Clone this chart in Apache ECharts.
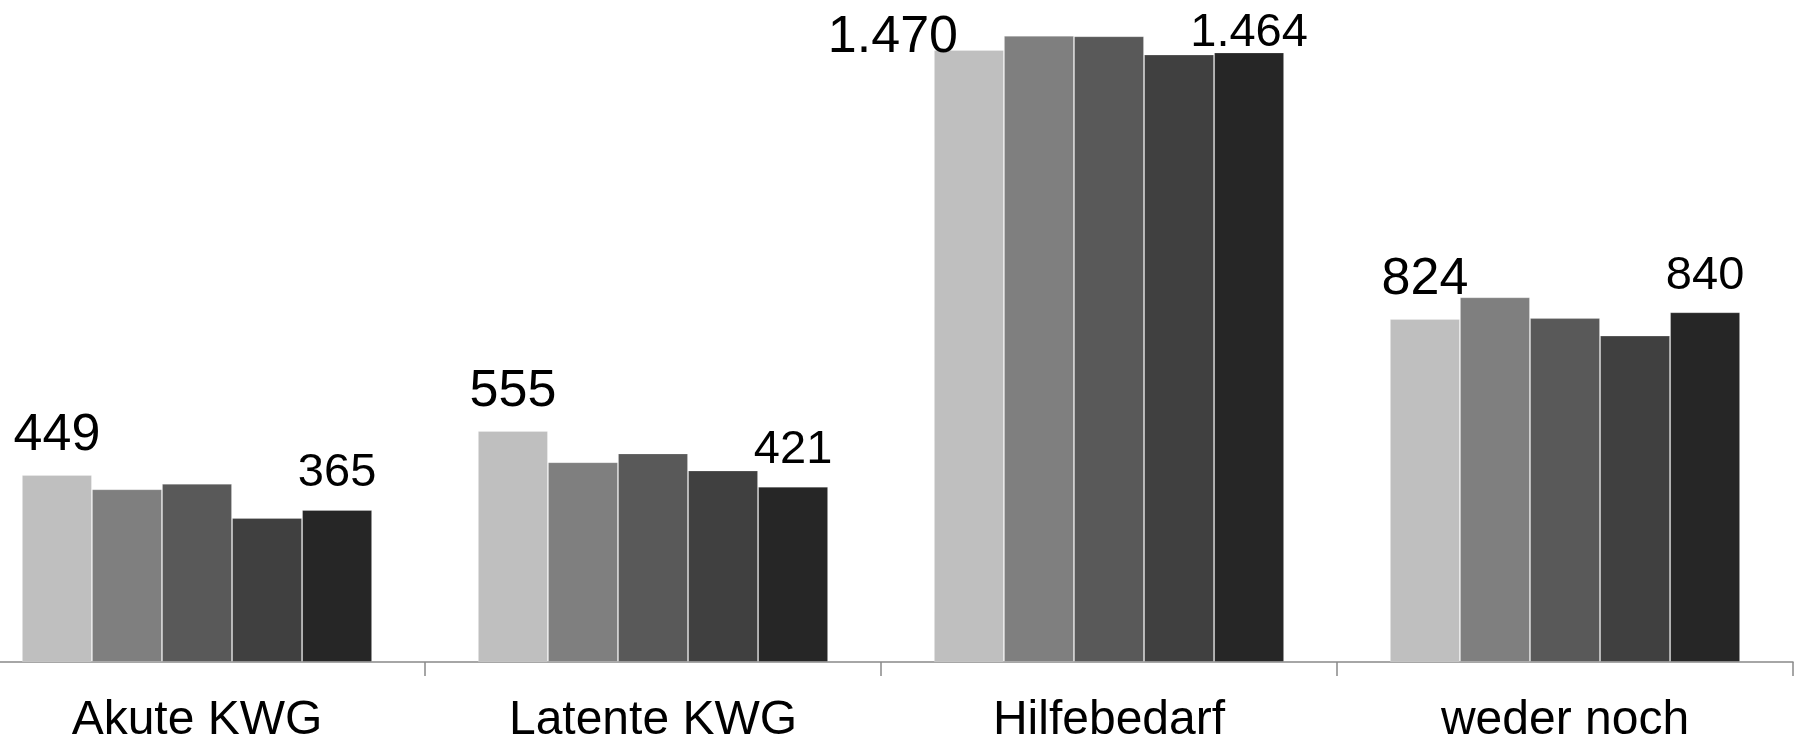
<!DOCTYPE html>
<html>
<head>
<meta charset="utf-8">
<script src="https://cdn.jsdelivr.net/npm/echarts@6/dist/echarts.min.js"></script>
<style>
  html, body { margin: 0; padding: 0; background: #ffffff; overflow: hidden; }
  /* the first category starts a little beyond the left edge of the page */
  #chart { width: 1829px; height: 739px; margin-left: -31px; }
</style>
</head>
<body>
<div id="chart"></div>
<script>
// Categories along the x axis
const categories = ['Akute KWG', 'Latente KWG', 'Hilfebedarf', 'weder noch'];

// Five series, one bar per category each
const serie1 = [449, 555, 1470, 824];
const serie2 = [415, 480, 1504, 876];
const serie3 = [428, 501, 1503, 826];
const serie4 = [346, 460, 1459, 784];
const serie5 = [365, 421, 1464, 840];

const seriesNames = ['Reihe 1', 'Reihe 2', 'Reihe 3', 'Reihe 4', 'Reihe 5'];
const seriesColors = ['#bfbfbf', '#7f7f7f', '#595959', '#404040', '#262626'];
const allSeries = [serie1, serie2, serie3, serie4, serie5];

const FONT = '"Liberation Sans", Arial, Helvetica, sans-serif';

// German thousands separator: 1470 -> 1.470
function fmt(v) {
  return String(v).replace(/\B(?=(\d{3})+(?!\d))/g, '.');
}

// Label placement tweaks for the tallest group (it runs up against the top edge)
const firstLabelOffsets = [[0, 0], [0, 0], [-76, 27], [0, 0]];
const lastLabelOffsets = [[0, 0], [0, 0], [0, 17], [0, 0]];

function makeData(values, idx) {
  return values.map(function (v, i) {
    const d = { value: v };
    if (idx === 0) d.label = { offset: firstLabelOffsets[i] };
    if (idx === 4) d.label = { offset: lastLabelOffsets[i] };
    return d;
  });
}

const series = allSeries.map(function (values, idx) {
  const showLabel = idx === 0 || idx === 4;
  return {
    name: seriesNames[idx],
    type: 'bar',
    data: makeData(values, idx),
    barGap: '0%',
    barCategoryGap: '23.2%',
    itemStyle: {
      color: seriesColors[idx],
      borderColor: 'rgba(255,255,255,0.22)',
      borderWidth: 1
    },
    label: {
      show: showLabel,
      position: 'top',
      distance: 13,
      color: '#000000',
      fontFamily: FONT,
      fontSize: idx === 0 ? 52 : 47,
      formatter: function (p) { return fmt(p.value); }
    },
    emphasis: { disabled: true },
    animation: false
  };
});

const chart = echarts.init(document.getElementById('chart'), null, { renderer: 'canvas' });
chart.setOption({
  backgroundColor: '#ffffff',
  animation: false,
  grid: { left: 0, right: 5, top: 0, bottom: 77, containLabel: false, outerBoundsMode: 'none' },
  xAxis: {
    type: 'category',
    data: categories,
    axisLine: { show: true, lineStyle: { color: '#898989', width: 1.5 } },
    axisTick: { show: true, length: 14, lineStyle: { color: '#898989', width: 1.5 } },
    axisLabel: {
      color: '#000000',
      fontFamily: FONT,
      fontSize: 48,
      margin: 35
    },
    splitLine: { show: false }
  },
  yAxis: {
    type: 'value',
    min: 0,
    max: 1590,
    show: false,
    splitLine: { show: false }
  },
  series: series
});
</script>
</body>
</html>
